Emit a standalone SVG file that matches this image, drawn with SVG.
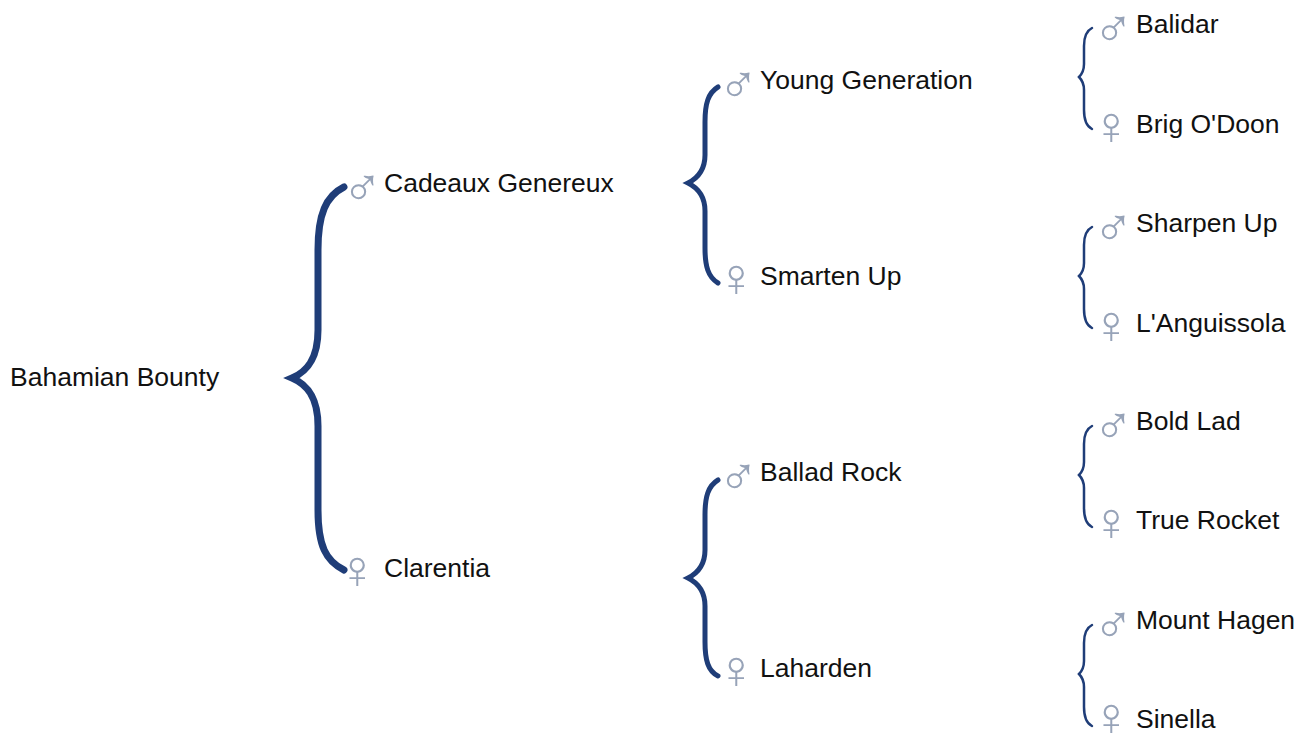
<svg xmlns="http://www.w3.org/2000/svg" width="1311" height="745" viewBox="0 0 1311 745">
<style>
.t{font-family:"Liberation Sans",Arial,sans-serif;font-size:26.5px;fill:#111}
.s{font-family:"Liberation Sans",Arial,sans-serif;font-size:54px;fill:#97a3b8}
.b1{fill:none;stroke:#1f3d78;stroke-width:7;stroke-linecap:round}
.b2{fill:none;stroke:#1f3d78;stroke-width:5;stroke-linecap:round}
.b3{fill:none;stroke:#1f3d78;stroke-width:2.5;stroke-linecap:round}
</style>
<rect width="1311" height="745" fill="#fff"/>
<g id="connectors">
<path class="b1" d="M344,187 C326,196 318,214 318,250 L318,330 C318,360 306,372 292,378 C306,384 318,396 318,426 L318,510 C318,546 326,561 344,570"/>
<path class="b2" d="M718,87 C708,93 705,104 705,122 L705,155 C705,170 698,178 688,183 C698,188 705,196 705,211 L705,248 C705,266 708,277 718,283"/>
<path class="b2" d="M718,480 C708,486 705,497 705,515 L705,550 C705,565 698,573 688,578 C698,583 705,591 705,606 L705,642 C705,660 708,671 718,676"/>
<path class="b3" d="M1092,28 C1086,31 1084,37 1084,46 L1084,64 C1084,71 1082,74 1079,77 C1082,80 1084,83 1084,90 L1084,110 C1084,120 1086,126 1092,129"/>
<path class="b3" d="M1092,227 C1086,230 1084,236 1084,245 L1084,263 C1084,270 1082,273 1079,276 C1082,279 1084,282 1084,289 L1084,309 C1084,319 1086,325 1092,328"/>
<path class="b3" d="M1092,426 C1086,429 1084,435 1084,444 L1084,462 C1084,469 1082,472 1079,475 C1082,478 1084,481 1084,488 L1084,508 C1084,518 1086,524 1092,527"/>
<path class="b3" d="M1092,625 C1086,628 1084,634 1084,643 L1084,661 C1084,668 1082,671 1079,674 C1082,677 1084,680 1084,687 L1084,707 C1084,717 1086,723 1092,726"/>
</g>
<g id="n-bahamian-bounty"><text class="t" x="10" y="386">Bahamian Bounty</text></g>
<g id="n-cadeaux-genereux"><text class="s" x="342" y="206">♂</text><text class="t" x="384" y="192">Cadeaux Genereux</text></g>
<g id="n-clarentia"><text class="s" x="337" y="588">♀</text><text class="t" x="384" y="577">Clarentia</text></g>
<g id="n-young-generation"><text class="s" x="718" y="103">♂</text><text class="t" x="760" y="89">Young Generation</text></g>
<g id="n-smarten-up"><text class="s" x="716" y="296">♀</text><text class="t" x="760" y="285">Smarten Up</text></g>
<g id="n-ballad-rock"><text class="s" x="718" y="495">♂</text><text class="t" x="760" y="481">Ballad Rock</text></g>
<g id="n-laharden"><text class="s" x="716" y="688">♀</text><text class="t" x="760" y="677">Laharden</text></g>
<g id="n-balidar"><text class="s" x="1093" y="47">♂</text><text class="t" x="1136" y="33">Balidar</text></g>
<g id="n-brig-odoon"><text class="s" x="1091" y="144">♀</text><text class="t" x="1136" y="133">Brig O'Doon</text></g>
<g id="n-sharpen-up"><text class="s" x="1093" y="246">♂</text><text class="t" x="1136" y="232">Sharpen Up</text></g>
<g id="n-languissola"><text class="s" x="1091" y="343">♀</text><text class="t" x="1136" y="332">L'Anguissola</text></g>
<g id="n-bold-lad"><text class="s" x="1093" y="444">♂</text><text class="t" x="1136" y="430">Bold Lad</text></g>
<g id="n-true-rocket"><text class="s" x="1091" y="540">♀</text><text class="t" x="1136" y="529">True Rocket</text></g>
<g id="n-mount-hagen"><text class="s" x="1093" y="643">♂</text><text class="t" x="1136" y="629">Mount Hagen</text></g>
<g id="n-sinella"><text class="s" x="1091" y="735">♀</text><text class="t" x="1136" y="728">Sinella</text></g>
</svg>
